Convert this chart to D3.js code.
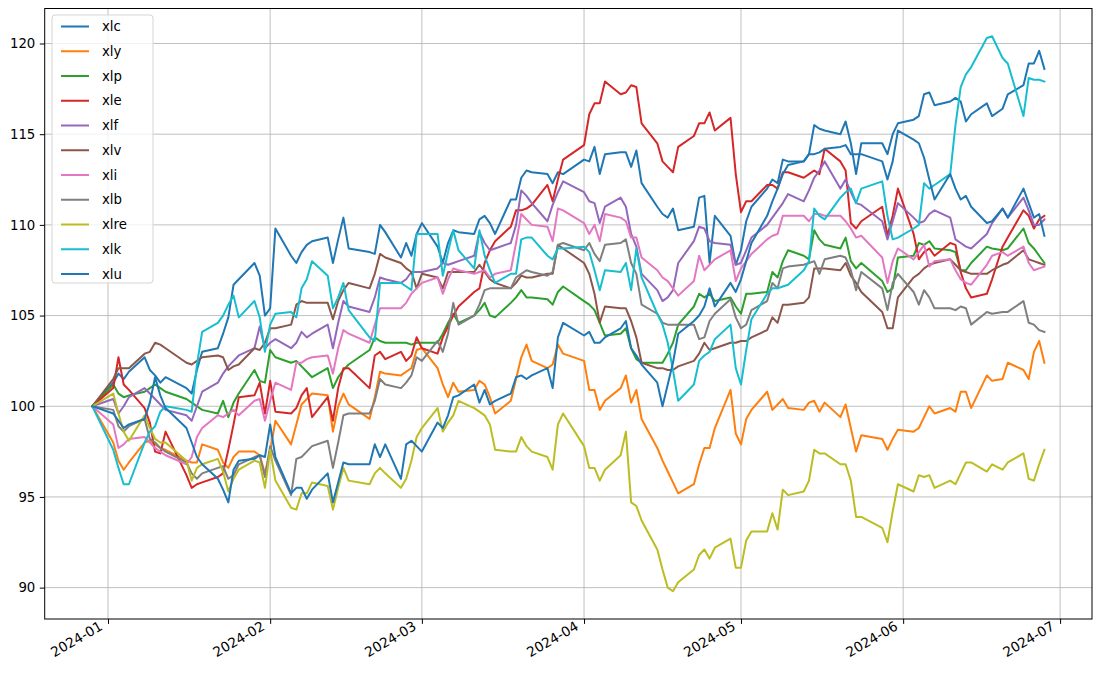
<!DOCTYPE html>
<html><head><meta charset="utf-8">
<script src="https://cdn.jsdelivr.net/npm/d3@7"></script>
<style>body{margin:0;background:#fff}svg{display:block}text{font-family:"DejaVu Sans",sans-serif}</style>
</head><body>
<svg id="c" width="1099" height="678"></svg>
<script>
const seriesNames = ["xlc","xly","xlp","xle","xlf","xlv","xli","xlb","xlre","xlk","xlu"];
const colors = ["#1f77b4","#ff7f0e","#2ca02c","#d62728","#9467bd","#8c564b","#e377c2","#7f7f7f","#bcbd22","#17becf","#1f77b4"];
const startDate = "2023-12-29", endDate = "2024-06-28";
const holidays = ["2024-01-01","2024-01-15","2024-02-19","2024-03-29","2024-05-27","2024-06-19"];
const yTicks = [90,95,100,105,110,115,120];
const xTickLabels = ["2024-01","2024-02","2024-03","2024-04","2024-05","2024-06","2024-07"];

const xlc = [100,101.3,101.8,101.5,101.9,102.7,102.0,101.7,101.3,101.6,
101.0,100.7,102.0,103.0,103.2,104.0,104.9,106.7,107.0,107.9,
107.2,105.0,105.4,109.8,108.3,107.9,108.5,108.9,109.1,109.3,
107.9,109.2,110.4,108.7,108.5,108.4,110.0,109.6,108.2,109.0,
108.3,109.5,110.1,108.8,107.9,109.0,109.7,109.6,109.5,110.3,
110.5,110.1,109.5,111.4,111.4,112.6,113.0,112.9,112.8,112.3,
112.9,112.8,113.6,113.5,114.3,112.8,113.9,114.0,114.0,113.2,
114.1,112.3,111.0,110.6,110.4,110.9,109.7,109.9,111.5,111.6,
107.9,110.5,109.4,107.8,108.6,110.2,111.0,112.0,112.5,112.3,
113.6,113.5,113.5,113.9,115.5,115.3,115.2,115.0,115.7,114.5,
112.8,114.5,114.5,113.9,115.0,115.6,115.8,116.0,117.2,117.3,
116.6,116.8,117.0,116.8,115.7,116.1,116.7,116.0,116.4,117.2,
117.7,118.9,118.9,119.6,118.6];
const xly = [100,98.0,97.0,96.5,96.9,98.0,98.1,97.9,97.7,97.6,
97.0,96.9,96.9,97.9,97.6,96.9,96.6,97.2,97.5,97.5,
97.3,96.3,97.5,99.2,97.9,99.0,100.1,100.4,100.7,100.6,
98.6,100.0,100.7,100.1,99.3,100.5,101.9,101.8,101.7,101.9,
102.1,103.1,103.2,102.1,101.2,100.5,101.3,100.8,100.9,101.4,
101.2,100.5,99.6,100.3,101.5,102.7,103.4,102.5,102.1,102.3,
103.4,102.9,102.5,100.9,100.9,99.8,100.3,101.0,101.7,100.2,
100.9,99.3,97.7,97.0,96.4,95.8,95.2,95.7,96.8,97.7,
97.7,98.8,100.9,98.5,97.9,99.3,99.8,100.8,99.8,100.1,
100.4,99.9,99.8,100.2,100.3,99.7,100.2,99.4,100.1,98.8,
97.5,98.4,98.2,97.6,98.2,98.7,98.6,98.8,99.4,100.0,
99.6,99.9,99.7,100.8,100.8,99.9,101.7,101.4,101.5,102.4,
102.0,101.5,103.0,103.6,102.4];
const xlp = [100,101.2,100.7,100.5,100.6,100.8,101.0,101.2,101.0,100.8,
100.4,100.2,100.0,99.8,99.6,100.3,99.4,100.2,100.7,102.0,
101.4,101.3,103.1,102.7,102.4,102.5,102.2,101.9,101.6,102.1,
101.0,101.6,102.0,102.3,103.1,103.8,103.6,103.5,103.5,103.5,
103.4,103.5,103.5,103.5,104.0,104.6,105.1,104.6,105.0,105.3,
105.7,105.0,104.9,105.7,106.0,106.4,106.0,106.0,105.9,105.6,
106.3,106.6,105.8,105.6,105.3,104.6,103.9,104.0,104.3,103.2,
102.6,102.4,102.4,102.4,102.9,103.5,104.5,105.5,106.2,106.0,
106.2,105.8,106.0,105.5,105.1,106.2,106.2,106.3,107.4,107.1,
108.0,108.6,108.3,108.1,109.7,109.2,108.9,108.7,109.3,108.0,
107.6,107.9,106.9,106.3,106.5,108.2,108.3,109.0,108.9,109.1,
108.7,108.6,108.5,107.5,107.5,107.9,108.8,108.7,108.6,108.7,
109.8,109.0,108.7,108.3,107.9];
const xle = [100,101.0,102.7,101.2,100.9,99.9,99.1,97.5,97.4,98.6,
96.2,95.5,95.7,95.8,96.1,96.3,97.6,99.0,100.5,100.6,
101.3,99.6,101.4,99.7,99.6,99.9,100.6,101.0,99.4,100.5,
99.2,101.0,102.1,102.1,101.0,102.8,103.0,102.6,103.0,102.5,
102.8,103.8,103.2,102.9,103.8,104.4,105.0,105.5,106.3,106.5,
107.9,108.6,109.1,109.9,110.8,110.8,110.9,111.1,112.2,111.3,
112.5,113.6,114.4,116.1,116.7,116.7,117.9,117.2,117.3,117.7,
117.6,115.6,114.5,113.5,113.2,112.9,114.3,114.9,115.6,115.6,
116.2,115.2,115.9,112.8,110.7,111.3,111.3,112.2,112.2,112.0,
112.9,112.9,112.6,112.8,113.0,112.8,114.2,113.5,113.0,110.1,
109.8,110.2,111.0,109.4,110.5,112.0,109.5,108.1,108.5,108.7,
108.3,109.0,108.9,107.4,106.5,106.0,106.2,107.0,108.8,109.3,
110.8,110.5,109.8,110.3,110.5];
const xlf = [100,100.4,99.6,100.0,100.5,101.0,100.7,100.4,100.1,99.8,
99.5,99.2,100.0,100.8,101.3,101.8,102.2,102.5,102.8,103.2,
104.4,103.2,103.5,103.7,103.2,103.5,104.1,103.8,104.0,104.5,
103.2,104.6,105.8,105.5,105.2,106.0,107.1,107.0,106.8,107.0,
107.4,107.4,107.4,107.6,107.9,107.8,107.9,108.0,108.3,109.6,
109.0,108.6,108.7,109.0,110.0,111.9,111.6,111.2,110.2,111.1,
111.8,112.4,111.8,111.3,111.2,110.1,111.0,111.5,111.0,109.5,
108.8,107.3,106.4,105.8,106.0,106.4,107.9,109.1,109.9,109.8,
109.1,109.0,108.9,107.8,107.9,108.6,109.3,110.0,110.4,110.8,
111.2,111.7,111.3,111.9,112.6,113.0,113.5,112.0,112.5,111.8,
111.2,111.1,110.2,109.2,110.2,111.2,110.4,110.1,110.2,110.6,
110.8,110.4,109.2,109.0,108.8,108.7,109.5,110.1,110.9,110.4,
111.5,110.8,110.0,110.0,110.3];
const xlv = [100,101.5,102.1,102.1,102.1,102.9,103.0,103.5,103.4,103.2,
102.4,102.3,102.5,102.7,102.8,102.7,102.0,102.2,102.3,103.2,
103.1,103.5,104.3,104.3,104.5,105.6,105.8,105.7,105.7,105.7,
104.8,105.8,106.4,106.8,106.5,107.3,108.4,108.2,107.9,107.6,
107.4,106.5,107.3,107.1,106.5,107.4,107.4,107.4,107.4,107.8,
107.4,107.0,106.8,106.5,106.8,107.2,107.1,107.1,107.3,107.3,
108.9,108.7,107.9,107.3,106.2,104.6,105.5,105.4,105.4,104.7,
103.8,102.4,102.1,102.1,102.0,102.0,102.2,102.5,102.9,103.5,
103.1,103.2,103.5,103.5,103.6,103.6,103.8,104.2,104.9,104.6,
105.6,105.6,105.7,106.0,107.6,107.6,107.6,107.5,107.9,107.2,
106.8,106.3,105.2,104.3,104.3,106.0,107.1,107.3,107.6,107.8,
107.9,108.1,107.8,107.5,107.4,107.3,107.3,107.5,107.8,107.9,
108.6,108.1,108.0,107.9,107.8];
const xli = [100,99.0,97.7,97.9,98.2,98.3,98.0,97.7,97.5,97.3,
96.8,97.2,98.3,98.8,99.5,99.4,99.6,99.8,99.5,100.3,
100.4,99.2,100.3,101.3,100.9,102.4,102.4,102.6,102.7,102.8,
101.8,103.2,104.2,104.0,103.5,104.5,105.4,105.4,105.4,105.7,
106.2,106.5,106.8,107.1,106.2,107.0,107.6,107.5,107.3,107.4,
107.5,107.1,107.3,107.5,109.0,110.6,110.3,110.0,109.9,109.1,
110.9,110.8,110.1,109.5,110.0,109.1,110.6,110.4,110.2,109.3,
109.3,108.2,107.5,107.1,106.9,106.5,106.1,106.9,108.3,107.5,
107.8,108.1,108.6,106.9,107.6,108.0,108.4,109.2,109.4,109.5,
110.5,110.5,110.5,110.2,110.6,110.6,110.5,110.5,110.2,109.8,
109.3,109.4,108.2,106.8,108.0,108.7,108.1,108.5,108.9,107.7,
108.0,108.1,107.5,107.0,106.8,106.7,107.8,108.3,108.5,108.3,
108.8,107.9,107.5,107.6,107.7];
const xlb = [100,99.8,98.9,98.6,98.9,99.3,98.2,98.0,97.7,97.5,
96.9,96.3,96.0,96.3,96.6,96.7,96.0,96.2,96.8,97.2,
97.3,96.1,97.8,97.0,95.1,97.1,97.2,97.5,97.8,98.1,
96.6,98.0,99.5,99.6,99.6,100.3,101.5,101.2,101.0,101.3,
101.7,102.7,102.5,103.6,103.0,104.0,105.7,104.5,105.0,105.6,
106.4,106.5,106.5,106.5,107.1,107.3,107.5,107.4,107.2,107.4,
108.9,109.0,108.6,109.0,108.4,108.0,108.9,109.0,109.2,107.9,
107.3,105.6,105.1,104.6,104.5,104.5,104.5,104.5,103.7,103.8,
104.7,105.1,105.9,104.9,104.3,104.5,105.3,105.8,106.8,106.5,
107.6,107.7,107.8,107.9,108.0,107.3,108.1,108.3,108.2,107.5,
106.4,107.4,106.5,105.3,106.8,107.3,106.3,105.6,106.4,106.0,
105.4,105.4,105.3,105.5,105.4,104.5,105.2,105.1,105.2,105.2,
105.8,104.6,104.5,104.2,104.1];
const xlre = [100,100.7,99.6,98.6,98.1,99.5,98.8,98.2,98.0,98.0,
97.0,95.9,96.6,96.8,97.1,96.4,95.3,96.0,96.5,97.0,
96.9,95.5,97.6,95.9,94.4,94.3,95.2,95.2,95.8,95.6,
94.3,95.5,96.6,95.9,95.7,96.3,96.6,96.3,95.5,96.0,
97.0,98.3,98.8,99.9,98.6,99.1,99.5,100.3,99.9,99.7,
99.5,99.0,97.6,97.5,97.5,98.3,97.8,97.5,97.2,96.5,
99.0,99.6,97.8,96.6,96.6,95.9,96.5,97.3,98.6,94.7,
94.5,93.7,92.1,91.0,90.0,89.8,90.3,91.0,91.8,92.1,
91.6,92.2,92.7,91.1,91.1,92.6,93.1,93.1,94.1,93.2,
95.4,95.1,95.3,95.9,97.6,97.4,97.4,96.8,96.8,95.9,
93.9,93.9,93.3,92.5,94.2,95.7,95.3,96.2,96.1,96.2,
95.5,95.9,95.7,96.3,96.9,96.9,96.4,96.8,96.5,96.9,
97.4,96.0,95.9,96.8,97.6];
const xlk = [100,97.6,96.6,95.7,95.7,98.0,98.6,98.9,99.7,100.0,
99.8,99.7,102.3,104.1,104.6,105.0,105.6,106.1,104.9,105.8,
104.9,103.0,104.5,105.1,105.2,104.9,106.5,107.0,108.0,107.2,
105.4,106.0,106.8,105.3,103.8,103.6,106.8,106.8,106.8,106.6,
106.4,109.5,109.5,109.5,107.2,108.5,109.7,108.6,107.6,109.7,
108.3,107.5,106.8,107.3,107.3,109.2,109.3,109.3,108.3,108.1,
108.7,108.7,108.8,108.5,107.5,106.4,107.5,107.4,107.9,106.4,
108.7,107.1,105.1,104.5,103.5,102.0,100.3,101.2,102.5,102.8,
103.0,103.7,104.5,102.1,101.2,103.1,104.8,106.2,106.5,106.5,
106.6,106.7,107.5,108.0,110.9,110.5,110.3,111.5,111.8,112.0,
111.2,112.0,112.4,110.5,109.2,109.3,109.8,110.0,112.3,112.0,
112.2,112.8,115.5,117.6,118.3,118.7,120.3,120.4,119.2,118.9,
116.0,118.1,118.0,118.0,117.9];
const xlu = [100,99.6,99.2,98.8,99.0,99.3,100.2,101.6,100.6,99.9,
98.8,98.0,97.2,96.8,96.0,95.4,94.7,96.5,97.0,97.1,
97.3,97.2,99.0,97.2,95.2,95.5,95.5,94.9,95.4,96.3,
94.7,95.8,96.9,96.8,96.8,97.9,97.2,97.9,96.0,97.9,
98.1,97.8,97.5,99.1,98.8,99.5,100.5,100.6,101.2,100.2,
100.9,100.1,100.3,100.7,101.6,101.7,101.5,101.7,102.1,101.0,
103.8,104.6,103.9,104.1,103.5,103.5,103.8,104.3,104.7,103.2,
102.8,102.3,101.3,100.0,101.2,102.4,104.0,104.7,105.0,105.5,
106.5,105.5,106.8,106.3,107.0,108.0,109.0,110.5,111.3,112.0,
112.8,113.3,113.5,113.9,113.9,114.0,114.2,114.3,114.4,113.9,
113.9,113.9,113.5,112.5,113.5,115.2,114.7,114.5,113.7,112.5,
111.4,112.8,112.0,111.4,111.6,111.0,110.1,110.2,110.9,110.4,
112.0,111.2,110.4,110.6,109.4];

const seriesValues = [xlc,xly,xlp,xle,xlf,xlv,xli,xlb,xlre,xlk,xlu];

// trading days
const parse = d3.timeParse("%Y-%m-%d");
const fmt = d3.timeFormat("%Y-%m-%d");
const hol = new Set(holidays);
const dates = d3.timeDay.range(parse(startDate), d3.timeDay.offset(parse(endDate),1))
  .filter(d => d.getDay()!==0 && d.getDay()!==6 && !hol.has(fmt(d)));

const W=1099,H=678;
const m = {l:44.7, t:8.5, r:1092, b:619};
const svg = d3.select("#c");
svg.append("rect").attr("width",W).attr("height",H).attr("fill","#fff");

const xExt = d3.extent(dates);
const pad = (xExt[1]-xExt[0])*0.05;
const x = d3.scaleTime().domain([new Date(+xExt[0]-pad), new Date(+xExt[1]+pad)]).range([m.l,m.r]);
const allV = seriesValues.flat();
const yMin = d3.min(allV), yMax = d3.max(allV), yp=(yMax-yMin)*0.05;
const y = d3.scaleLinear().domain([yMin-yp, yMax+yp]).range([m.b,m.t]);

const xTicks = xTickLabels.map(s => parse(s+"-01"));

// grid
const g = svg.append("g");
g.selectAll(".gx").data(xTicks).join("line")
  .attr("x1",d=>x(d)).attr("x2",d=>x(d)).attr("y1",m.t).attr("y2",m.b)
  .attr("stroke","#b0b0b0").attr("stroke-width",0.8);
g.selectAll(".gy").data(yTicks).join("line")
  .attr("x1",m.l).attr("x2",m.r).attr("y1",d=>y(d)).attr("y2",d=>y(d))
  .attr("stroke","#b0b0b0").attr("stroke-width",0.8);

// lines
svg.append("clipPath").attr("id","cp").append("rect")
  .attr("x",m.l).attr("y",m.t).attr("width",m.r-m.l).attr("height",m.b-m.t);
const line = d3.line().x((d,i)=>x(dates[i])).y(d=>y(d));
const lg = svg.append("g").attr("clip-path","url(#cp)");
seriesValues.forEach((vals,k)=>{
  lg.append("path").attr("d",line(vals)).attr("fill","none")
    .attr("stroke",colors[k]).attr("stroke-width",2).attr("stroke-linejoin","round").attr("stroke-linecap","square");
});

// axes
const xAxis = d3.axisBottom(x).tickValues(xTicks).tickFormat(d3.timeFormat("%Y-%m")).tickSize(4.9).tickPadding(3);
const xa = svg.append("g").attr("transform",`translate(0,${m.b})`).call(xAxis);
xa.select(".domain").remove();
xa.selectAll("line").attr("stroke","#000").attr("stroke-width",1);
xa.selectAll("text").attr("font-size","13.6px").attr("fill","#000")
  .attr("font-family","DejaVu Sans")
  .style("text-anchor","end").attr("dy",null).attr("y",null)
  .attr("transform","translate(-5,10) rotate(-30)");

const yAxis = d3.axisLeft(y).tickValues(yTicks).tickSize(4.9).tickPadding(4.5);
const ya = svg.append("g").attr("transform",`translate(${m.l},0)`).call(yAxis);
ya.select(".domain").remove();
ya.selectAll("line").attr("stroke","#000").attr("stroke-width",1);
ya.selectAll("text").attr("font-size","13.3px").attr("fill","#000").attr("font-family","DejaVu Sans");

svg.append("rect").attr("x",m.l).attr("y",m.t).attr("width",m.r-m.l).attr("height",m.b-m.t)
  .attr("fill","none").attr("stroke","#000").attr("stroke-width",1);

// legend
const L = {x:52, y:15, w:101, h:268};
const leg = svg.append("g");
leg.append("rect").attr("x",L.x).attr("y",L.y).attr("width",L.w).attr("height",L.h)
  .attr("rx",3).attr("fill","#fff").attr("fill-opacity",0.8).attr("stroke","#d5d5d5").attr("stroke-width",1);
seriesNames.forEach((n,k)=>{
  const yy = L.y + 11.5 + k*24.75;
  leg.append("line").attr("x1",L.x+9).attr("x2",L.x+37).attr("y1",yy).attr("y2",yy)
    .attr("stroke",colors[k]).attr("stroke-width",2);
  leg.append("text").attr("x",L.x+50).attr("y",yy).attr("dy","0.35em")
    .attr("font-size","13.3px").attr("fill","#000").text(n);
});
</script>
</body></html>
